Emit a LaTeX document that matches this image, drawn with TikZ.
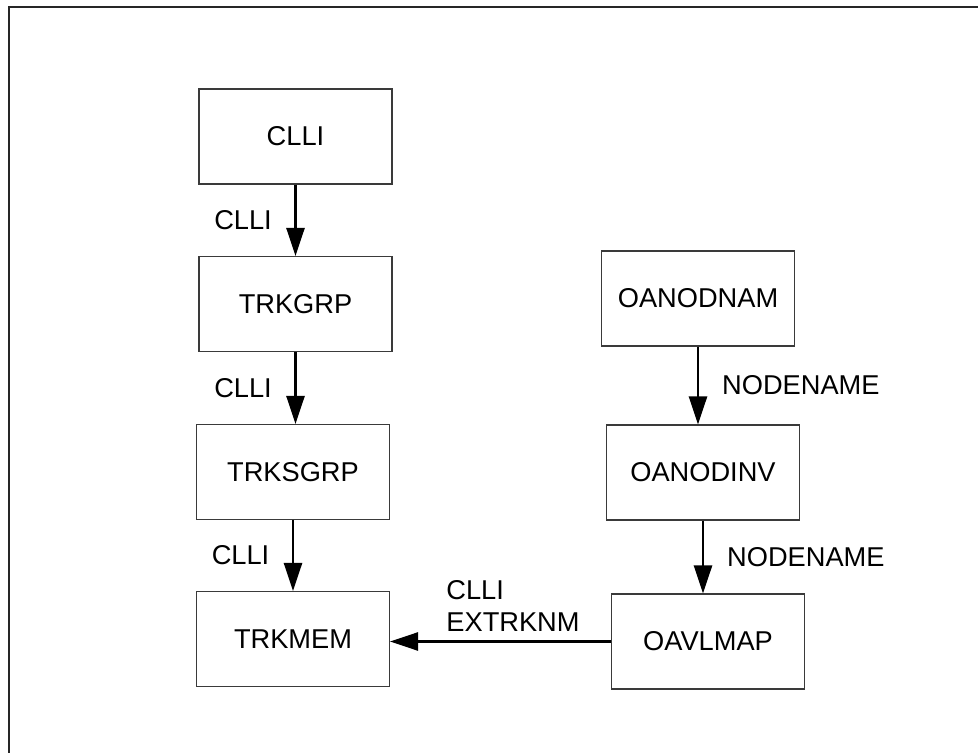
\documentclass[tikz,border=0pt]{standalone}
\usepackage{fontspec}
\setsansfont{Liberation Sans}
\usetikzlibrary{arrows.meta, positioning}
\definecolor{cline}{HTML}{3A3A3A}
\tikzset{
  every picture/.style={font=\sffamily\fontsize{15.5}{18.2}\selectfont},
  table/.style={draw=cline, line width=0.6pt, minimum width=3.86cm, minimum height=1.9cm, inner sep=0pt},
  link/.style={-{Triangle[length=5.6mm, width=3.6mm]}, line width=1.4pt},
  key/.style={inner sep=0pt, align=left},
  frame/.style={line width=1.1pt, draw=black!85},
}

\begin{document}
\begin{tikzpicture}[x=0.02cm, y=-0.02cm]
  \useasboundingbox (0,0) rectangle (978,753);
  \draw[frame] (9,753) -- (9,7) -- (978,7);
  % trunk tables
  \node[table] (clli) at (295.5,136.5) {CLLI};
  \node[table] (trkgrp) at (295.5,304) {TRKGRP};
  \node[table] (trksgrp) at (293,472) {TRKSGRP};
  \node[table] (trkmem) at (293,639) {TRKMEM};
  % node tables
  \node[table] (oanodnam) at (698,298.5) {OANODNAM};
  \node[table] (oanodinv) at (703,472.5) {OANODINV};
  \node[table] (oavlmap) at (708,641.5) {OAVLMAP};
  % keys
  \draw[link] (clli.south) -- node[key, left=4.5mm] {CLLI} (clli.south |- trkgrp.north);
  \draw[link] (trkgrp.south) -- node[key, left=4.5mm] {CLLI} (trkgrp.south |- trksgrp.north);
  \draw[link] (trksgrp.south) -- node[key, left=4.5mm] {CLLI} (trksgrp.south |- trkmem.north);
  \draw[link] (oanodnam.south) -- node[key, right=4.6mm] {NODENAME} (oanodnam.south |- oanodinv.north);
  \draw[link] (oanodinv.south) -- node[key, right=4.6mm] {NODENAME} (oanodinv.south |- oavlmap.north);
  \draw[link] (oavlmap.west) -- node[key, above=1.8mm, xshift=2.5mm] {CLLI\\EXTRKNM} (oavlmap.west -| trkmem.east);
\end{tikzpicture}
\end{document}
